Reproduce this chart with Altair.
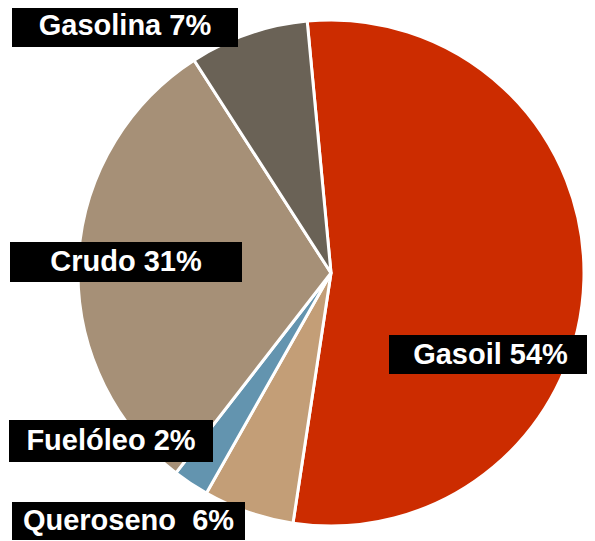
import math
import altair as alt
import pandas as pd

fuels = ["Gasoil", "Queroseno", "Fuelóleo", "Crudo", "Gasolina"]
shares = [53.9, 5.8, 2.3, 30.4, 7.6]
labels = ["Gasoil 54%", "Queroseno\u00a0 6%", "Fuelóleo 2%", "Crudo 31%", "Gasolina 7%"]
colors = ["#CC2C00", "#C39E77", "#6394AF", "#A69077", "#6A6256"]

# label box layout (page pixels)
box_left = [389, 12, 9, 10, 12]
box_right = [592, 245, 213, 242, 238]
box_top = [335, 502, 420, 242, 5]
box_bottom = [374, 540, 462, 282, 47]

OFF = 8
W, H = 579, 533
start = math.radians(-5.4)

pie_df = pd.DataFrame({"fuel": fuels, "share": shares, "idx": list(range(len(fuels)))})
lab_df = pd.DataFrame({
    "label": labels,
    "x1": box_left, "x2": box_right, "y1": box_top, "y2": box_bottom,
})
lab_df["xc"] = (lab_df["x1"] + lab_df["x2"]) / 2
lab_df["yc"] = (lab_df["y1"] + lab_df["y2"]) / 2

xs = alt.Scale(domain=[OFF, OFF + W], nice=False, zero=False)
ys = alt.Scale(domain=[OFF, OFF + H], nice=False, zero=False, reverse=True)

pie = alt.Chart(pie_df).mark_arc(
    outerRadius=253, stroke="white", strokeWidth=3
).encode(
    theta=alt.Theta("share:Q", stack=True,
                    scale=alt.Scale(range=[start, start + 2 * math.pi])),
    color=alt.Color("fuel:N", scale=alt.Scale(domain=fuels, range=colors), legend=None),
    order=alt.Order("idx:Q"),
    x=alt.value(331 - OFF),
    y=alt.value(273 - OFF),
)

boxes = alt.Chart(lab_df).mark_rect(color="black").encode(
    x=alt.X("x1:Q", scale=xs, axis=None),
    x2="x2:Q",
    y=alt.Y("y1:Q", scale=ys, axis=None),
    y2="y2:Q",
)

texts = alt.Chart(lab_df).mark_text(
    color="white", font="Liberation Sans", fontWeight="bold", fontSize=29,
    align="center", baseline="middle"
).encode(
    x=alt.X("xc:Q", scale=xs, axis=None),
    y=alt.Y("yc:Q", scale=ys, axis=None),
    text="label:N",
)

chart = alt.layer(pie, boxes, texts).properties(
    width=W, height=H, padding=0,
    autosize=alt.AutoSizeParams(type="none"),
).configure_view(stroke=None)

chart.save("out.html", embed_options={"renderer": "svg", "actions": False})
